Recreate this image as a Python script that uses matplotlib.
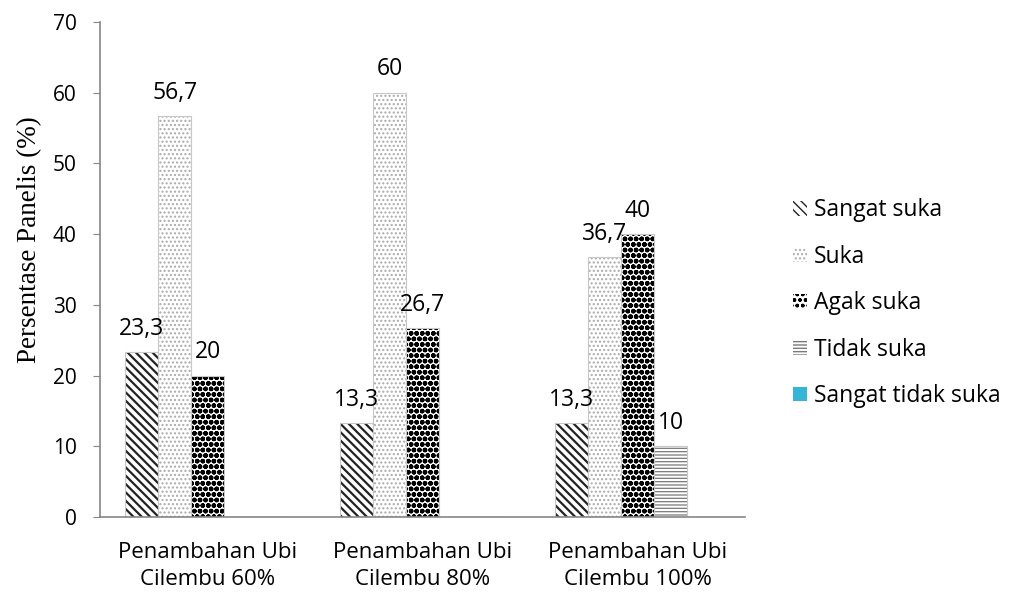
import matplotlib.pyplot as plt
import numpy as np

# data
categories = ["Penambahan Ubi\nCilembu 60%", "Penambahan Ubi\nCilembu 80%", "Penambahan Ubi\nCilembu 100%"]
series = ["Sangat suka", "Suka", "Agak suka", "Tidak suka", "Sangat tidak suka"]
sangat_suka = [23.3, 13.3, 13.3]
suka = [56.7, 60, 36.7]
agak_suka = [20, 26.7, 40]
tidak_suka = [0, 0, 10]
sangat_tidak_suka = [0, 0, 0]
values = [sangat_suka, suka, agak_suka, tidak_suka, sangat_tidak_suka]
# which bars get a data label (Excel only labelled non-zero ones)
show_label = [[True, True, True], [True, True, True], [True, True, True],
              [False, False, True], [False, False, False]]

hatches = ["\\\\\\\\", "....", "ooo", "-----", ""]
hatch_cols = ["#222222", "#aaaaaa", "#000000", "#7a7a7a", "#2fb2d2"]
face_cols = ["white", "white", "white", "white", "#35b6d6"]
hatch_lw = [1.6, 1.0, 1.7, 0.9, 1.0]

label_font = "Open Sans"
fig = plt.figure(figsize=(10.11, 5.96), dpi=100)
ax = fig.add_axes([0.099, 0.1326, 0.638, 0.8305])

x = np.arange(len(categories))
width = 0.153
for i, (name, vals) in enumerate(zip(series, values)):
    pos = x + (i - 2) * width
    bars = ax.bar(pos, vals, width, facecolor=face_cols[i], edgecolor=hatch_cols[i],
                  hatch=hatches[i], linewidth=0, label=name)
    for b in bars:
        if hasattr(b, "set_hatch_linewidth"):
            b.set_hatch_linewidth(hatch_lw[i])
    # soft grey outline like the Excel bevel
    ax.bar(pos, vals, width, fill=False, edgecolor="#c8c8c8", linewidth=0.8)
    for p, v, s in zip(pos, vals, show_label[i]):
        if s:
            ax.text(p, v + 1.6, f"{v:g}".replace(".", ","), ha="center", va="bottom",
                    fontsize=16.5, family=label_font)

ax.set_xlim(-0.5, 2.5)
ax.set_ylim(0, 70)
ax.set_yticks(range(0, 71, 10))
ax.set_xticks(x)
ax.set_xticklabels(categories, fontsize=16, family=label_font, linespacing=1.4)
for t in ax.get_yticklabels():
    t.set_fontsize(15)
    t.set_family(label_font)
ax.tick_params(axis="y", length=5, color="#868686", pad=12)
ax.tick_params(axis="x", length=0, pad=18)
for side in ["top", "right"]:
    ax.spines[side].set_visible(False)
for side in ["left", "bottom"]:
    ax.spines[side].set_color("#868686")
    ax.spines[side].set_linewidth(1.2)

ax.set_ylabel("Persentase Panelis (%)", family="Liberation Serif", fontsize=19.5)
ax.yaxis.set_label_coords(-0.09, 0.56)

leg = fig.legend(loc="center left", bbox_to_anchor=(0.764, 0.491), frameon=False,
                 handlelength=0.6, handleheight=0.6, handletextpad=0.3,
                 labelspacing=0.98, prop={"family": label_font, "size": 16.5})

fig.savefig("out.png", dpi=100)
